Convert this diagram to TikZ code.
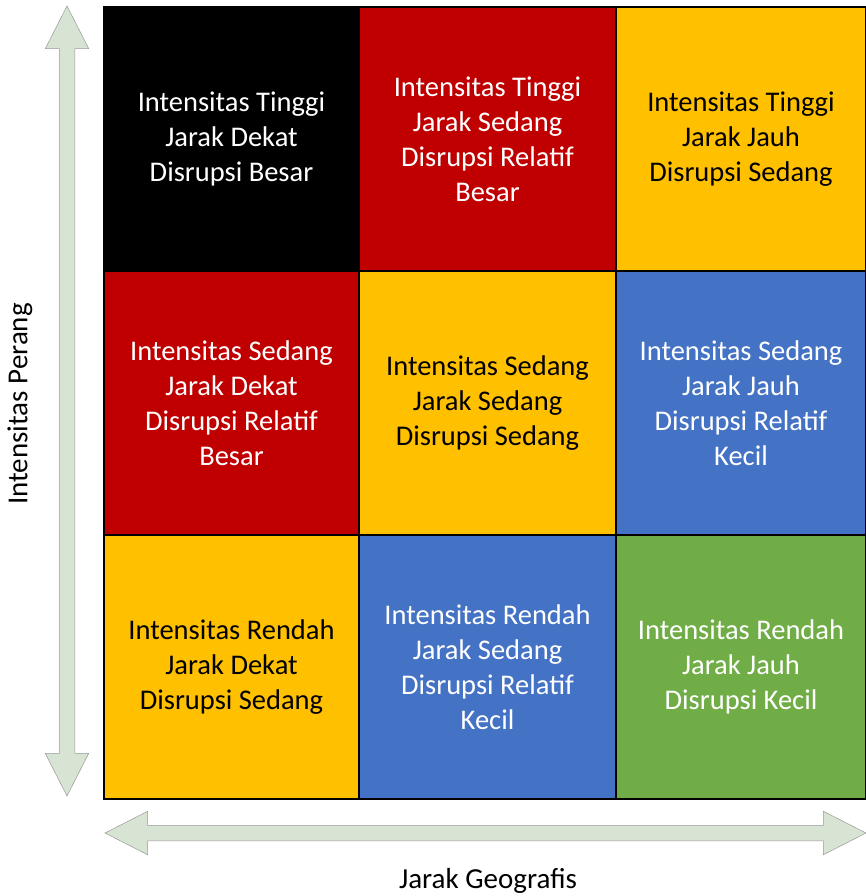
\documentclass[tikz,border=0pt]{standalone}
\usepackage{fontspec}
\setmainfont{Carlito}
\usepackage{xcolor}
\usetikzlibrary{shapes.arrows}
\definecolor{hitam}{HTML}{000000}
\definecolor{merah}{HTML}{C00000}
\definecolor{kuning}{HTML}{FFC000}
\definecolor{biru}{HTML}{4472C4}
\definecolor{hijau}{HTML}{70AD47}
\definecolor{panah}{HTML}{D7E4D3}

\begin{document}
\begin{tikzpicture}[x=1pt,y=-1pt,
  sel/.style={draw=black,line width=1.4pt,minimum height=264pt,inner sep=0pt,
    align=center,font=\fontsize{28.5}{35}\selectfont},
  axis arrow/.style={double arrow,draw=gray!80,line width=0.5pt,fill=panah,
    inner xsep=0pt,inner ysep=7.5pt,double arrow head extend=14pt,
    double arrow tip angle=54},
  axis label/.style={font=\fontsize{29}{32}\selectfont}]
  \useasboundingbox (0,0) rectangle (866,896);
  % matrix cells
  \node[sel,fill=hitam,text=white,minimum width=255pt] (Q11) at (231.5,139) {Intensitas Tinggi\\Jarak Dekat\\Disrupsi Besar};
  \node[sel,fill=merah,text=white,minimum width=257pt] (Q12) at (487.5,139) {Intensitas Tinggi\\Jarak Sedang\\Disrupsi Relatif\\Besar};
  \node[sel,fill=kuning,text=black,minimum width=250pt] (Q13) at (741,139) {Intensitas Tinggi\\Jarak Jauh\\Disrupsi Sedang};
  \node[sel,fill=merah,text=white,minimum width=255pt] (Q21) at (231.5,403) {Intensitas Sedang\\Jarak Dekat\\Disrupsi Relatif\\Besar};
  \node[sel,fill=kuning,text=black,minimum width=257pt] (Q22) at (487.5,403) {Intensitas Sedang\\Jarak Sedang\\Disrupsi Sedang};
  \node[sel,fill=biru,text=white,minimum width=250pt] (Q23) at (741,403) {Intensitas Sedang\\Jarak Jauh\\Disrupsi Relatif\\Kecil};
  \node[sel,fill=kuning,text=black,minimum width=255pt] (Q31) at (231.5,667) {Intensitas Rendah\\Jarak Dekat\\Disrupsi Sedang};
  \node[sel,fill=biru,text=white,minimum width=257pt] (Q32) at (487.5,667) {Intensitas Rendah\\Jarak Sedang\\Disrupsi Relatif\\Kecil};
  \node[sel,fill=hijau,text=white,minimum width=250pt] (Q33) at (741,667) {Intensitas Rendah\\Jarak Jauh\\Disrupsi Kecil};
  % axes
  \node[axis arrow,rotate=90,minimum height=790pt] (Aint) at (67,401) {};
  \node[axis arrow,minimum height=761pt] (Ajar) at (485.5,833) {};
  \node[axis label,rotate=90] (Lint) at (20,404) {Intensitas Perang};
  \node[axis label] (Ljar) at (488,881) {Jarak Geografis};
\end{tikzpicture}
\end{document}
